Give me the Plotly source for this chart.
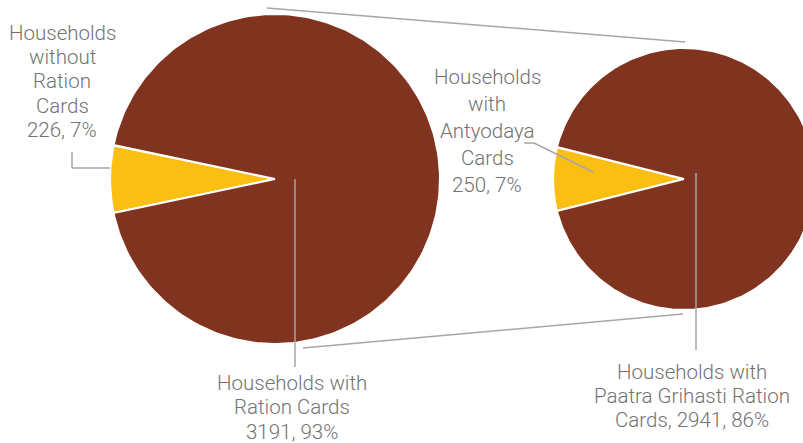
import numpy as np
import plotly.graph_objects as go

W, H = 803, 443

# First pie: all surveyed households
main_labels = ["Households without Ration Cards", "Households with Ration Cards"]
main_values = [226, 3191]
main_pct = [7, 93]

# Second pie: households holding ration cards, split by card type
sub_labels = ["Households with Antyodaya Cards",
              "Households with Paatra Grihasti Ration Cards"]
sub_values = [250, 2941]
sub_pct = [7, 86]

slice_colors = ["#FBBF13", "#80331E"]
text_color = "#727272"
line_color = "#A6A6A6"
FONT = dict(family="Roboto", size=20.5, color=text_color, weight=300)

# pie geometry (pixel space)
P1 = dict(cx=275, cy=179, r=165)
P2 = dict(cx=684, cy=179, r=131)


def wedge(cx, cy, r, a0, a1):
    t = np.radians(np.linspace(a0, a1, 240))
    xs = np.concatenate([[cx], cx + r * np.cos(t), [cx]])
    ys = np.concatenate([[cy], cy - r * np.sin(t), [cy]])
    return xs, ys


def pie_traces(geo, values, names):
    total = sum(values)
    frac = values[0] / total
    half = frac * 180.0
    spans = [(180 - half, 180 + half), (180 + half, 180 - half + 360)]
    traces = []
    for (a0, a1), col, name in zip(spans, slice_colors, names):
        xs, ys = wedge(geo["cx"], geo["cy"], geo["r"], a0, a1)
        traces.append(go.Scatter(x=xs, y=ys, mode="lines", fill="toself",
                                 fillcolor=col, line=dict(color="white", width=2),
                                 name=name, hoverinfo="skip", showlegend=False))
    return traces


fig = go.Figure()
for tr in pie_traces(P1, main_values, main_labels):
    fig.add_trace(tr)
for tr in pie_traces(P2, sub_values, sub_labels):
    fig.add_trace(tr)


def seg(x0, y0, x1, y1):
    fig.add_shape(type="line", x0=x0, y0=y0, x1=x1, y1=y1, xref="x", yref="y",
                  line=dict(color=line_color, width=1.5))


# series lines joining the two pies
seg(P1["cx"] - 8, P1["cy"] - P1["r"] - 6, P2["cx"] + 1, P2["cy"] - P2["r"] - 6)
seg(P1["cx"] + 28, P1["cy"] + P1["r"] + 4, P2["cx"] - 1, P2["cy"] + P2["r"] + 4)

# leader lines
seg(72, 152, 72, 168)
seg(72, 168, P1["cx"] - P1["r"], 168)
seg(295, P1["cy"], 295, 367)
seg(524, 143, 534, 143)
seg(534, 143, 593, 172)
seg(696, P2["cy"] - 6, 696, 350)


def label(lines, cx, y0, step):
    for i, txt in enumerate(lines):
        fig.add_annotation(x=cx, y=y0 + i * step, xref="x", yref="y", text=txt,
                           showarrow=False, xanchor="center", yanchor="middle",
                           font=FONT)


label(["Households", "without", "Ration", "Cards",
       f"{main_values[0]}, {main_pct[0]}%"], 62, 33, 24.2)
label(["Households with", "Ration Cards",
       f"{main_values[1]}, {main_pct[1]}%"], 292, 383, 24.3)
label(["Households", "with", "Antyodaya", "Cards",
       f"{sub_values[0]}, {sub_pct[0]}%"], 487, 77, 27)
label(["Households with", "Paatra Grihasti Ration",
       f"Cards, {sub_values[1]}, {sub_pct[1]}%"], 692, 372, 24.2)

fig.update_layout(
    width=W, height=H, margin=dict(l=0, r=0, t=0, b=0),
    paper_bgcolor="white", plot_bgcolor="white",
    xaxis=dict(range=[0, W], visible=False, fixedrange=True),
    yaxis=dict(range=[H, 0], visible=False, fixedrange=True),
    showlegend=False,
)

fig.write_html("out.html", config=dict(displayModeBar=False))
